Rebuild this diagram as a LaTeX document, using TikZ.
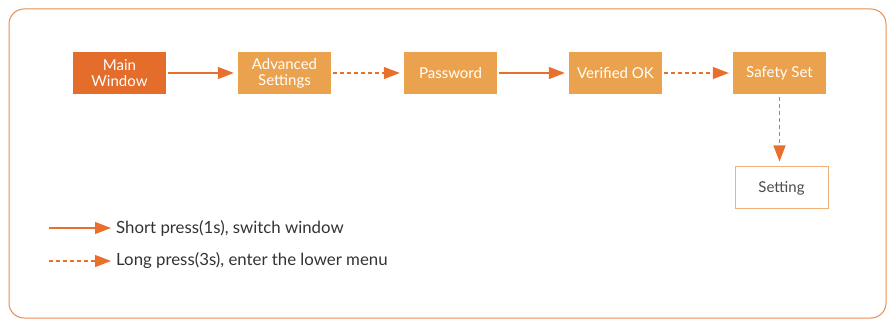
\documentclass[tikz,border=0pt]{standalone}
\usepackage{fontspec}
\setmainfont{Lato}
\usetikzlibrary{arrows.meta}
\definecolor{deeporange}{HTML}{E56D2B}
\definecolor{softorange}{HTML}{EBA24E}
\definecolor{linkorange}{HTML}{E8702C}
\definecolor{frameorange}{HTML}{EA8C50}
\definecolor{paleorange}{HTML}{F0B07A}
\definecolor{legendgray}{HTML}{333333}
\tikzset{
  menubox/.style={fill=softorange, text=white, minimum width=93pt, minimum height=42pt,
    inner sep=0pt, align=center, font=\fontsize{15}{16}\selectfont},
  leafbox/.style={draw=paleorange, line width=1pt, fill=white, text=black!70, minimum width=93pt,
    minimum height=42pt, inner sep=0pt, font=\fontsize{15}{16}\selectfont},
  shortpress/.style={draw=linkorange, line width=1.2pt, -{Triangle[length=16pt, width=12pt]}},
  longpress/.style={shortpress, dash pattern=on 4pt off 3pt},
  legendtext/.style={anchor=west, text=legendgray, inner sep=0pt, font=\fontsize{16.8}{18}\selectfont}
}
\begin{document}
\begin{tikzpicture}[x=1pt, y=-1pt]
  \useasboundingbox (0,0) rectangle (888,320);
  % Rahmen
  \draw[frameorange, line width=1pt, rounded corners=15pt] (9,9) rectangle (886,318);

  % Menuekette
  \node[menubox, fill=deeporange] (main) at (119.5,73) {Main\\Window};
  \node[menubox] (adv) at (284.5,73) {Advanced\\Settings};
  \node[menubox] (pwd) at (450.5,73) {Password};
  \node[menubox] (ok) at (615.5,73) {Verified OK};
  \node[menubox] (safety) at (779.5,73) {Safety Set};
  \node[leafbox] (setting) at (781.5,188) {Setting};

  % Uebergaenge
  \draw[shortpress] (main.east) ++(2,0) -- ([xshift=-4pt]adv.west);
  \draw[longpress] ([xshift=2pt]adv.east) -- ([xshift=-4pt]pwd.west);
  \draw[shortpress] ([xshift=2pt]pwd.east) -- ([xshift=-4pt]ok.west);
  \draw[longpress] ([xshift=2pt]ok.east) -- ([xshift=-4pt]safety.west);
  \draw[longpress] ([yshift=-3pt]safety.south) -- ([yshift=5pt]setting.north -| safety.south);

  % Legende
  \coordinate (shortfrom) at (49,228);
  \coordinate (longfrom) at (49,261);
  \node[legendtext] (shortlabel) at (116,228) {Short press(1s), switch window};
  \node[legendtext] (longlabel) at (116,261) {Long press(3s), enter the lower menu};
  \draw[shortpress] (shortfrom) -- ([xshift=-5pt]shortlabel.west);
  \draw[longpress] (longfrom) -- ([xshift=-5pt]longlabel.west);
\end{tikzpicture}
\end{document}
